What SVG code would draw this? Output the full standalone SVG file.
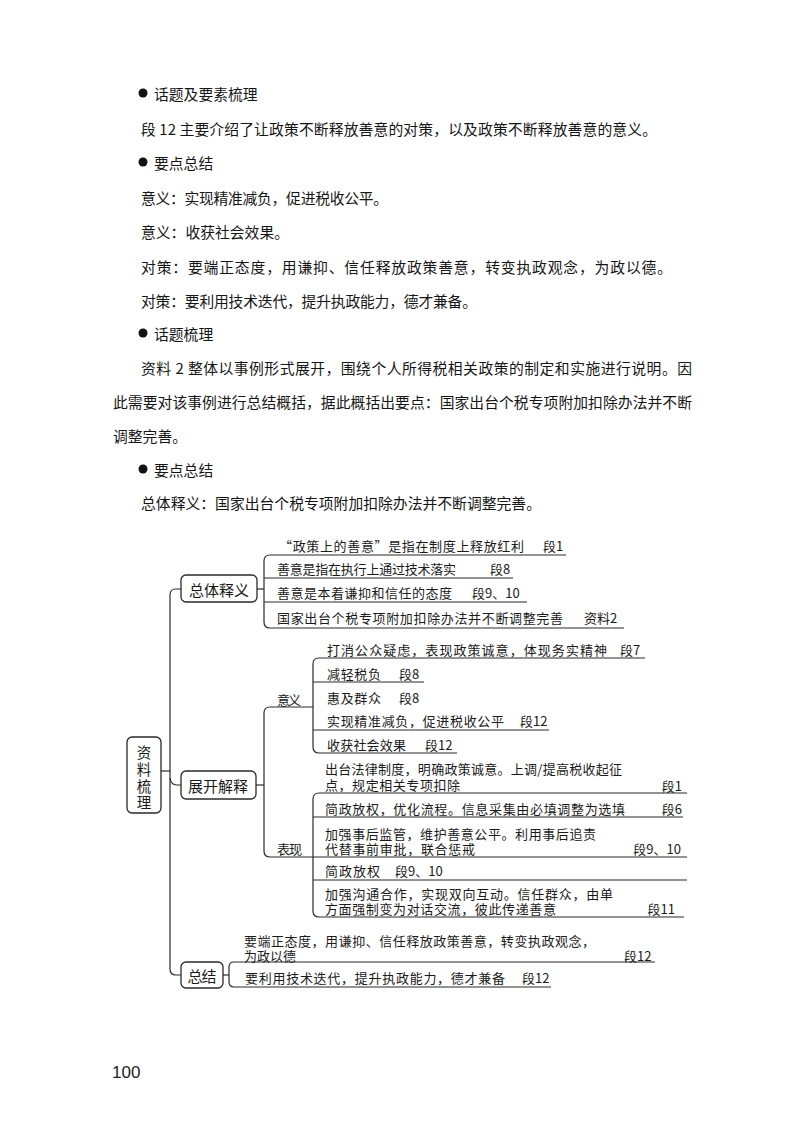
<svg xmlns="http://www.w3.org/2000/svg" width="800" height="1130" viewBox="0 0 800 1130">
<style>
.t{font-family:"Noto Sans CJK SC","Noto Sans",sans-serif;font-size:14.8px;fill:#151515;dominant-baseline:central}
.m{font-family:"Noto Sans CJK SC","Noto Sans",sans-serif;font-size:13px;fill:#1a1a1a;dominant-baseline:central}
.b{font-family:"Noto Sans CJK SC","Noto Sans",sans-serif;font-size:15px;fill:#1a1a1a;dominant-baseline:central;text-anchor:middle}
.r{font-family:"Noto Sans CJK SC","Noto Sans",sans-serif;font-size:14.5px;fill:#1a1a1a;dominant-baseline:central;text-anchor:middle}
.box{fill:#fff;stroke:#2a2a2a;stroke-width:1.3}
.ln{fill:none;stroke:#2a2a2a;stroke-width:1.2}
.e{text-anchor:end}
</style>
<rect width="800" height="1130" fill="#fff"/>
<g id="intro-text">
<circle cx="143" cy="93" r="4.5" fill="#111"/>
<text class="t" x="154" y="93">话题及要素梳理</text>
<text class="t" x="141" y="128" textLength="516" lengthAdjust="spacing">段 12 主要介绍了让政策不断释放善意的对策，以及政策不断释放善意的意义。</text>
<circle cx="143" cy="162" r="4.5" fill="#111"/>
<text class="t" x="154" y="162">要点总结</text>
<text class="t" x="141" y="197" textLength="247" lengthAdjust="spacing">意义：实现精准减负，促进税收公平。</text>
<text class="t" x="141" y="231">意义：收获社会效果。</text>
<text class="t" x="141" y="266" textLength="531" lengthAdjust="spacing">对策：要端正态度，用谦抑、信任释放政策善意，转变执政观念，为政以德。</text>
<text class="t" x="141" y="300" textLength="336" lengthAdjust="spacing">对策：要利用技术迭代，提升执政能力，德才兼备。</text>
<circle cx="143" cy="333" r="4.5" fill="#111"/>
<text class="t" x="154" y="333">话题梳理</text>
<text class="t" x="141" y="367" textLength="551" lengthAdjust="spacing">资料 2 整体以事例形式展开，围绕个人所得税相关政策的制定和实施进行说明。因</text>
<text class="t" x="113" y="401" textLength="579" lengthAdjust="spacing">此需要对该事例进行总结概括，据此概括出要点：国家出台个税专项附加扣除办法并不断</text>
<text class="t" x="113" y="435">调整完善。</text>
<circle cx="143" cy="469" r="4.5" fill="#111"/>
<text class="t" x="154" y="469">要点总结</text>
<text class="t" x="141" y="502" textLength="400" lengthAdjust="spacing">总体释义：国家出台个税专项附加扣除办法并不断调整完善。</text>
</g>
<g id="connectors">
<path class="ln" d="M161,771 H170"/>
<path class="ln" d="M181,589 H176 Q170,589 170,595 V969 Q170,975 176,975 H181"/>
<path class="ln" d="M170,778 Q171,785 177,785 H181"/>
<path class="ln" d="M257,589 H264"/>
<path class="ln" d="M566,555 H270 Q264,555 264,561 V622 Q264,628 270,628 H624"/>
<path class="ln" d="M264,578 H513 M264,602 H527"/>
<path class="ln" d="M256,785 H264"/>
<path class="ln" d="M313,707 H270 Q264,707 264,713 V851 Q264,857 270,857 H313"/>
<path class="ln" d="M645,658 H319 Q313,658 313,664 V747 Q313,753 319,753 H457"/>
<path class="ln" d="M313,682 H424 M313,730 H549"/>
<path class="ln" d="M687,793 H319 Q313,793 313,799 V911 Q313,917 319,917 H684"/>
<path class="ln" d="M313,817 H683 M313,857 H687 M313,880 H687"/>
<path class="ln" d="M223,975 H229"/>
<path class="ln" d="M655,962 H234 Q229,962 229,967 V982 Q229,987 234,987 H551"/>
</g>
<g id="node-root">
<rect class="box" x="127" y="737" width="34" height="76" rx="5"/>
<text class="r"><tspan x="144" y="751">资</tspan><tspan x="144" y="768">料</tspan><tspan x="144" y="785">梳</tspan><tspan x="144" y="801">理</tspan></text>
</g>
<g id="node-zongti">
<rect class="box" x="181" y="575" width="76" height="27" rx="5"/>
<text class="b" x="219" y="589" textLength="60" lengthAdjust="spacing">总体释义</text>
</g>
<g id="node-zongti-items">
<text class="m" x="279" y="545" textLength="245" lengthAdjust="spacing">“政策上的善意”是指在制度上释放红利</text>
<text class="m" x="543" y="545">段1</text>
<text class="m" x="277" y="568" textLength="179" lengthAdjust="spacing">善意是指在执行上通过技术落实</text>
<text class="m" x="490" y="568">段8</text>
<text class="m" x="277" y="592" textLength="175" lengthAdjust="spacing">善意是本着谦抑和信任的态度</text>
<text class="m" x="472" y="592">段9、10</text>
<text class="m" x="277" y="617" textLength="286" lengthAdjust="spacing">国家出台个税专项附加扣除办法并不断调整完善</text>
<text class="m" x="584" y="617">资料2</text>
</g>
<g id="node-zhankai">
<rect class="box" x="181" y="771" width="75" height="28" rx="5"/>
<text class="b" x="218" y="785" textLength="60" lengthAdjust="spacing">展开解释</text>
</g>
<g id="node-yiyi">
<text class="m" x="277" y="699" textLength="24" lengthAdjust="spacing">意义</text>
<text class="m" x="327" y="649" textLength="280" lengthAdjust="spacing">打消公众疑虑，表现政策诚意，体现务实精神</text>
<text class="m" x="620" y="649">段7</text>
<text class="m" x="327" y="673" textLength="54" lengthAdjust="spacing">减轻税负</text>
<text class="m" x="399" y="673">段8</text>
<text class="m" x="327" y="697" textLength="54" lengthAdjust="spacing">惠及群众</text>
<text class="m" x="399" y="697">段8</text>
<text class="m" x="327" y="720" textLength="177" lengthAdjust="spacing">实现精准减负，促进税收公平</text>
<text class="m" x="520" y="720">段12</text>
<text class="m" x="327" y="744" textLength="79" lengthAdjust="spacing">收获社会效果</text>
<text class="m" x="425" y="744">段12</text>
</g>
<g id="node-biaoxian">
<text class="m" x="277" y="848" textLength="25" lengthAdjust="spacing">表现</text>
<text class="m"><tspan x="325" y="768" textLength="297" lengthAdjust="spacing">出台法律制度，明确政策诚意。上调/提高税收起征</tspan><tspan x="325" y="784" textLength="135" lengthAdjust="spacing">点，规定相关专项扣除</tspan></text>
<text class="m e" x="682" y="785">段1</text>
<text class="m" x="325" y="808" textLength="300" lengthAdjust="spacing">简政放权，优化流程。信息采集由必填调整为选填</text>
<text class="m e" x="682" y="808">段6</text>
<text class="m"><tspan x="325" y="833" textLength="271" lengthAdjust="spacing">加强事后监管，维护善意公平。利用事后追责</tspan><tspan x="325" y="848" textLength="150" lengthAdjust="spacing">代替事前审批，联合惩戒</tspan></text>
<text class="m e" x="681" y="848">段9、10</text>
<text class="m" x="325" y="870" textLength="55" lengthAdjust="spacing">简政放权</text>
<text class="m" x="395" y="870">段9、10</text>
<text class="m"><tspan x="325" y="893" textLength="288" lengthAdjust="spacing">加强沟通合作，实现双向互动。信任群众，由单</tspan><tspan x="325" y="908" textLength="231" lengthAdjust="spacing">方面强制变为对话交流，彼此传递善意</tspan></text>
<text class="m e" x="675" y="908">段11</text>
</g>
<g id="node-zongjie">
<rect class="box" x="181" y="962" width="42" height="26" rx="5"/>
<text class="b" x="202" y="975" textLength="29" lengthAdjust="spacing">总结</text>
</g>
<g id="node-zongjie-items">
<text class="m"><tspan x="244" y="940" textLength="351" lengthAdjust="spacing">要端正态度，用谦抑、信任释放政策善意，转变执政观念，</tspan><tspan x="244" y="955" textLength="52" lengthAdjust="spacing">为政以德</tspan></text>
<text class="m" x="624" y="955">段12</text>
<text class="m" x="245" y="977" textLength="260" lengthAdjust="spacing">要利用技术迭代，提升执政能力，德才兼备</text>
<text class="m" x="522" y="977">段12</text>
</g>
<text x="112" y="1078" style="font-family:'Liberation Sans',Arial,sans-serif;font-size:17px;fill:#222">100</text>
</svg>
